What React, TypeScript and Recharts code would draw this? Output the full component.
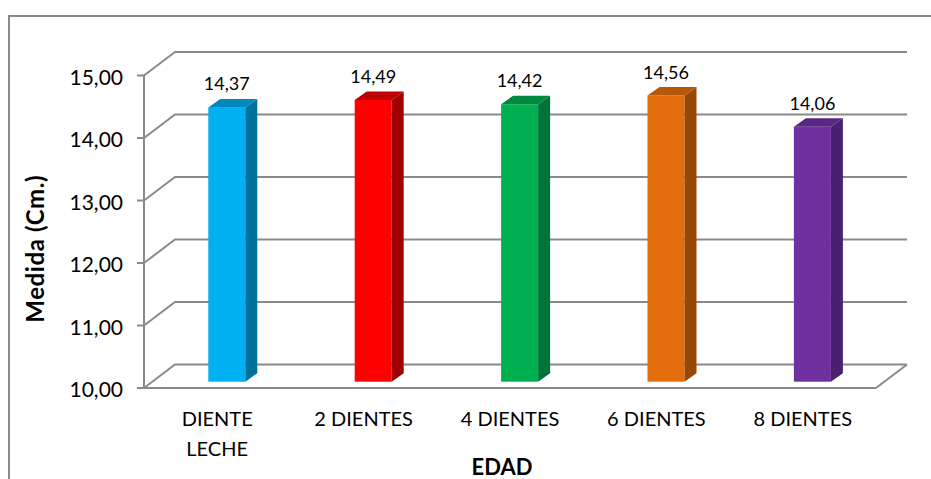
import { BarChart, Bar, XAxis, YAxis, CartesianGrid, LabelList } from "recharts";

const categories = ["DIENTE\nLECHE", "2 DIENTES", "4 DIENTES", "6 DIENTES", "8 DIENTES"];
const medidas = [14.37, 14.49, 14.42, 14.56, 14.06];
const yTicks = [10, 11, 12, 13, 14, 15];

const frontColors = ["#00b0f0", "#ff0000", "#00b050", "#e46c0a", "#7030a0"];
const sideColors = ["#00719b", "#a00000", "#00733a", "#974806", "#4a2070"];
const topColors = ["#0088ba", "#bf0000", "#008a3e", "#b65808", "#5a2686"];

const data = categories.map((name, i) => ({ name, value: medidas[i] }));

const FONT = "Lato, 'Open Sans', sans-serif";
const AXIS_COLOR = "#8a8a8a";

// depth of the floor and back wall
const WALL_DX = 31;
const WALL_DY = 23.5;

// where the column sits between the front edge and the back wall
const BAR_DX = 9.3;
const BAR_TOP_DY = -7.5;
const BAR_BASE_DY = -6.3;
const BAR_DEPTH_X = 12;
const BAR_DEPTH_Y = 8.5;

const fmt = (v: number) => v.toFixed(2).replace(".", ",");

function WallLine(props: any) {
  const { x1, x2, y1, index } = props;
  const backY = y1 - WALL_DY;
  return (
    <g>
      <polyline
        points={`${x1},${y1} ${x1 + WALL_DX},${backY} ${x2 + WALL_DX},${backY}`}
        fill="none"
        stroke={AXIS_COLOR}
        strokeWidth={2}
      />
      {index === 0 && (
        <line x1={x2} y1={y1} x2={x2 + WALL_DX} y2={backY} stroke={AXIS_COLOR} strokeWidth={2} />
      )}
    </g>
  );
}

function Column(props: any) {
  const { x, y, width, height, index } = props;
  const left = x + BAR_DX;
  const right = left + width;
  const top = y + BAR_TOP_DY;
  const base = y + height + BAR_BASE_DY;
  return (
    <g>
      <rect x={left} y={top} width={width} height={base - top} fill={frontColors[index]} />
      <polygon
        points={`${right},${top} ${right + BAR_DEPTH_X},${top - BAR_DEPTH_Y} ${right + BAR_DEPTH_X},${base - BAR_DEPTH_Y} ${right},${base}`}
        fill={sideColors[index]}
      />
      <polygon
        points={`${left},${top} ${left + BAR_DEPTH_X},${top - BAR_DEPTH_Y} ${right + BAR_DEPTH_X},${top - BAR_DEPTH_Y} ${right},${top}`}
        fill={topColors[index]}
      />
    </g>
  );
}

function ValueLabel(props: any) {
  const { x, y, width, value } = props;
  return (
    <text
      x={x + BAR_DX + width / 2}
      y={y + BAR_TOP_DY - 17}
      textAnchor="middle"
      fontFamily={FONT}
      fontSize={18}
      fill="#000"
    >
      {fmt(value)}
    </text>
  );
}

function CategoryTick(props: any) {
  const { x, y, payload } = props;
  return (
    <text x={x} y={y} textAnchor="middle" fontFamily={FONT} fontSize={20} fill="#000">
      {String(payload.value).split("\n").map((line, i) => (
        <tspan key={line} x={x} y={y + 30 + i * 30}>
          {line}
        </tspan>
      ))}
    </text>
  );
}

export default function App() {
  return (
    <div style={{ position: "absolute", left: 0, top: 0, width: 931, height: 479, overflow: "hidden", background: "#fff" }}>
      {/* chart area border, cut off at the right and bottom */}
      <div style={{ position: "absolute", left: 8, top: 15, width: 940, height: 480, borderLeft: "2px solid #8a8a8a", borderTop: "2px solid #8a8a8a" }} />
      <BarChart
        width={931}
        height={479}
        data={data}
        margin={{ top: 75.5, right: 55, bottom: 0, left: 0 }}
        style={{ position: "absolute", left: 0, top: 0 }}
      >
        <CartesianGrid horizontal={(p: any) => <WallLine key={p.index} {...p} />} vertical={false} />
        <XAxis
          dataKey="name"
          height={91}
          interval={0}
          axisLine={{ stroke: AXIS_COLOR, strokeWidth: 2 }}
          tickLine={false}
          tick={<CategoryTick />}
          label={{ value: "EDAD", position: "insideBottom", offset: 4, dx: -8, fontFamily: FONT, fontSize: 22, fontWeight: 700, fill: "#000" }}
        />
        <YAxis
          width={144}
          domain={[10, 15]}
          ticks={yTicks}
          tickFormatter={fmt}
          axisLine={{ stroke: AXIS_COLOR, strokeWidth: 2 }}
          tickLine={{ stroke: AXIS_COLOR, strokeWidth: 2 }}
          tickSize={7}
          tickMargin={14}
          tick={{ fontFamily: FONT, fontSize: 21, fill: "#000", dy: 2 }}
          label={{ value: "Medida (Cm.)", angle: -90, position: "insideLeft", offset: 24, dx: 11, dy: 91, fontFamily: FONT, fontSize: 24, fontWeight: 700, letterSpacing: 0.6, fill: "#000" }}
        />
        <Bar dataKey="value" barSize={37} shape={<Column />} isAnimationActive={false}>
          <LabelList dataKey="value" content={<ValueLabel />} />
        </Bar>
      </BarChart>
    </div>
  );
}
